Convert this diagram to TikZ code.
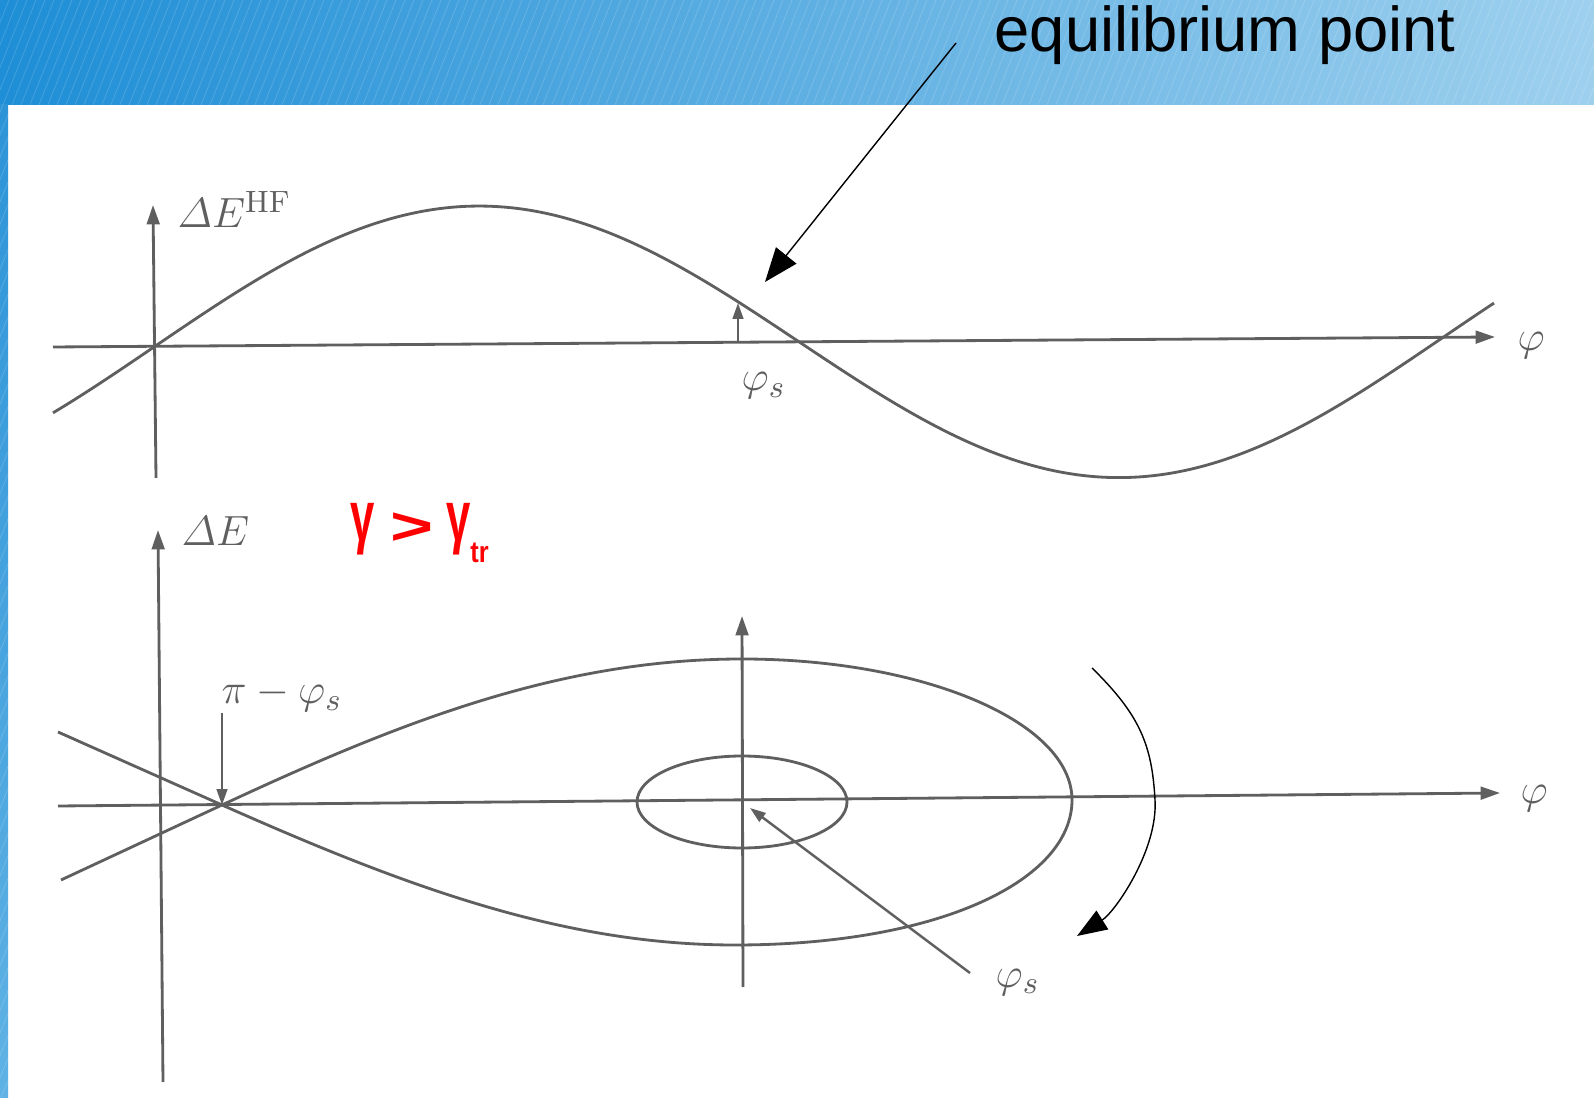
\documentclass[tikz,border=0pt]{standalone}
\usepackage{amsmath}
\usepackage{graphicx}
\usepackage{fontspec}
\newfontfamily\slidefont{Liberation Sans}
\usetikzlibrary{arrows.meta, positioning, calc}
\definecolor{hdrleft}{RGB}{30,142,214}
\definecolor{hdrright}{RGB}{158,208,238}
\definecolor{striptop}{RGB}{45,148,216}
\definecolor{stripbot}{RGB}{95,178,228}
\definecolor{scangray}{RGB}{95,95,95}
\definecolor{callred}{RGB}{255,0,0}
\tikzset{
  axis/.style={draw=scangray, line width=0.8pt, -{Triangle[length=5.5pt,width=3.6pt]}},
  curve/.style={draw=scangray, line width=0.8pt},
  marker/.style={draw=scangray, line width=0.7pt, -{Triangle[length=4.5pt,width=3pt]}},
  mathlbl/.style={text=scangray, font=\fontsize{12.5}{15}\selectfont, inner sep=0pt},
  callout/.style={draw=black, line width=0.4pt, -{Triangle[length=0.34cm,width=0.26cm]}}
}
\newcommand{\ngam}{\scalebox{0.62}[1]{γ}}

\begin{document}
\begin{tikzpicture}[x=0.01cm, y=-0.01cm]
  \useasboundingbox (0,0) rectangle (1594,1098);
  % slide background
  \fill[white] (0,0) rectangle (1594,1098);
  \shade[left color=hdrleft, right color=hdrright] (0,0) rectangle (1594,105);
  \shade[top color=striptop, bottom color=stripbot] (0,105) rectangle (8,1098);
  \begin{scope}
    \clip (0,0) rectangle (1594,105) (0,105) rectangle (8,1098);
    \foreach \i in {-440,-431,...,1600}
      \draw[white, opacity=0.15, line width=0.25pt] (\i,1098) -- ++(440,-1098);
  \end{scope}

  % Upper plot: RF energy gain
  \coordinate (v1bot) at (156,478);
  \coordinate (v1top) at (153,205);
  \coordinate (h1start) at (53,347);
  \coordinate (h1end) at (1495,337);
  \draw[axis] (v1bot) -- (v1top);
  \draw[axis] (h1start) -- (h1end);
  \draw[curve] plot[domain=53:1494, samples=150, smooth] (\x, {347-(\x-53)*0.00693-138*sin(0.2795*(\x-155))});
  \node[mathlbl, anchor=base west] (dehf) at (177,228) {$\varDelta E^{\mathrm{HF}}$};
  \node[mathlbl, anchor=base west] (phi1) at (1517,351) {$\varphi$};
  \coordinate (ps1foot) at (738,343);
  \coordinate (ps1head) at (738,303);
  \draw[marker] (ps1foot) -- (ps1head);
  \node[mathlbl, anchor=base west] (phis1) at (741,391) {$\varphi_s$};

  % Equilibrium callout
  \node[anchor=base west, font=\slidefont\fontsize{18}{20}\selectfont, inner sep=0pt] (eqlbl) at (994,52) {equilibrium point};
  \coordinate (eqfrom) at (956,43);
  \coordinate (eqpt) at (765,282);
  \draw[callout] (eqfrom) -- (eqpt);

  % Lower plot: phase space
  \coordinate (v2bot) at (163,1082);
  \coordinate (v2top) at (158,530);
  \coordinate (h2start) at (58,806);
  \coordinate (h2end) at (1500,793);
  \coordinate (c2bot) at (743,987);
  \coordinate (c2top) at (742,616);
  \draw[axis] (v2bot) -- (v2top);
  \draw[axis] (h2start) -- (h2end);
  \draw[axis] (c2bot) -- (c2top);
  \node[mathlbl, anchor=base west] (de2) at (181,546) {$\varDelta E$};
  \node[mathlbl, anchor=base west] (phi2) at (1520,804) {$\varphi$};

  % Separatrix (fish) and small orbit
  \coordinate (xpt) at (222,805);
  \coordinate (sepLo) at (61,880);
  \coordinate (sepHi) at (58,732);
  \coordinate (fishTop) at (742,659);
  \coordinate (fishTip) at (1072,800);
  \coordinate (fishBot) at (735,945);
  \draw[curve] (sepLo) -- (xpt) .. controls (400,722) and (560,659) .. (fishTop)
    .. controls (924,659) and (1072,722) .. (fishTip)
    .. controls (1072,880) and (940,945) .. (fishBot)
    .. controls (560,945) and (400,884) .. (xpt) -- (sepHi);
  \coordinate (ctr2) at (742,802);
  \draw[curve] (ctr2) ellipse [x radius=105, y radius=46];

  \node[mathlbl, anchor=base west] (pims) at (221,704) {$\pi-\varphi_s$};
  \coordinate (pimstail) at (222,713);
  \draw[marker] (pimstail) -- (xpt);
  \node[mathlbl, anchor=base west] (phis2) at (995,987) {$\varphi_s$};
  \coordinate (ps2tail) at (970,973);
  \coordinate (ps2tip) at (750,808);
  \draw[marker] (ps2tail) -- (ps2tip);

  % Rotation arrow
  \coordinate (rotfrom) at (1092,668);
  \coordinate (rotto) at (1077,936);
  \draw[callout, -{Triangle[length=0.3cm,width=0.22cm]}] (rotfrom) .. controls (1140,715) and (1152,745) .. (1155,800)
    .. controls (1158,850) and (1115,912) .. (rotto);

  % gamma condition
  \node[anchor=base west, text=callred, font=\slidefont\bfseries\fontsize{20}{22}\selectfont, inner sep=0pt] (gam) at (350,541)
    {\ngam\hspace{0.22em}\raisebox{-1pt}{\scalebox{1.05}[0.75]{>}}\hspace{0.18em}\ngam\raisebox{-6pt}{\fontsize{8.5}{9}\selectfont\scalebox{0.85}[1]{tr}}};
\end{tikzpicture}
\end{document}
